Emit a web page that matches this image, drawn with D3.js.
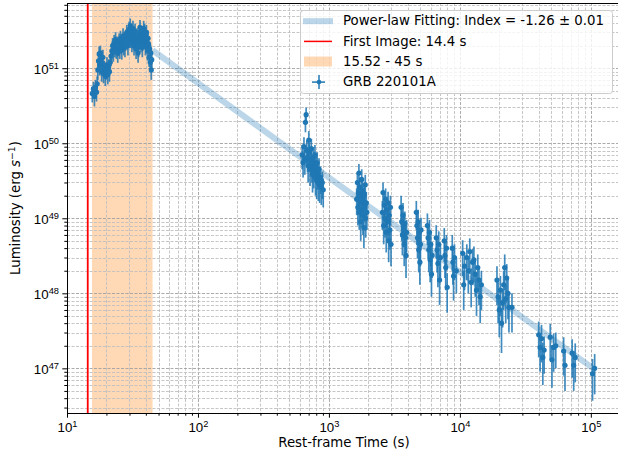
<!DOCTYPE html>
<meta charset="utf-8">
<style>
body { margin: 0; background: #fff; }
svg { display: block; font-family: "DejaVu Sans", sans-serif; }
.tick line { stroke: #000; stroke-width: 1; }
.domain { display: none; }
</style>
<svg width="618" height="457"></svg>
<script src="https://d3js.org/d3.v7.min.js"></script>
<script>
// [rest-frame time (s), luminosity (erg/s), 1-sigma error (erg/s)]
var promptPts = [
  [15.6, 4.6e50, 1.1e50], [15.9, 5.3e50, 1.3e50], [16.2, 4.2e50, 1.1e50], [16.5, 5.6e50, 1.4e50],
  [16.8, 4.8e50, 1.2e50], [17.0, 6.2e50, 1.6e50], [17.2, 9.5e50, 2.5e50], [17.4, 1.25e51, 0.32e51],
  [17.6, 1.55e51, 0.4e51], [17.8, 1.1e51, 0.3e51], [18.0, 1.6e51, 0.4e51], [18.2, 1.3e51, 0.34e51],
  [18.4, 9.0e50, 2.4e50], [18.6, 1.15e51, 0.3e51], [18.8, 1.4e51, 0.36e51], [19.0, 8.5e50, 2.2e50],
  [19.3, 1.0e51, 0.26e51], [19.6, 7.8e50, 2.0e50], [19.9, 9.5e50, 2.5e50], [20.2, 1.1e51, 0.3e51],
  [20.5, 8.2e50, 2.1e50], [20.8, 1.05e51, 0.27e51], [21.1, 9.0e50, 2.4e50], [21.4, 1.2e51, 0.31e51],
  [21.7, 1.45e51, 0.38e51], [22.0, 1.7e51, 0.44e51], [22.3, 2.0e51, 0.52e51], [22.6, 1.65e51, 0.43e51],
  [22.9, 2.2e51, 0.57e51], [23.2, 1.9e51, 0.5e51], [23.5, 2.4e51, 0.62e51], [23.8, 1.8e51, 0.47e51],
  [24.1, 2.1e51, 0.55e51], [24.4, 1.6e51, 0.42e51], [24.7, 1.95e51, 0.5e51], [25.0, 2.3e51, 0.6e51],
  [25.3, 1.8e51, 0.47e51], [25.6, 2.5e51, 0.65e51], [25.9, 2.1e51, 0.55e51], [26.2, 1.75e51, 0.45e51],
  [26.5, 2.2e51, 0.57e51], [26.8, 2.7e51, 0.7e51], [27.1, 2.0e51, 0.52e51], [27.4, 2.4e51, 0.62e51],
  [27.7, 1.9e51, 0.5e51], [28.0, 2.3e51, 0.6e51], [28.3, 2.6e51, 0.68e51], [28.6, 3.0e51, 0.78e51],
  [28.9, 2.4e51, 0.62e51], [29.2, 2.0e51, 0.52e51], [29.5, 2.7e51, 0.7e51], [29.8, 3.3e51, 0.86e51],
  [30.1, 2.8e51, 0.73e51], [30.4, 3.7e51, 0.9e51], [30.7, 2.5e51, 0.65e51], [31.0, 3.0e51, 0.78e51],
  [31.3, 2.2e51, 0.57e51], [31.6, 2.7e51, 0.7e51], [31.9, 3.4e51, 0.88e51], [32.2, 2.4e51, 0.62e51],
  [32.5, 2.0e51, 0.52e51], [32.8, 2.6e51, 0.68e51], [33.1, 3.1e51, 0.8e51], [33.4, 2.3e51, 0.6e51],
  [33.7, 1.8e51, 0.47e51], [34.0, 2.2e51, 0.57e51], [34.3, 2.7e51, 0.7e51], [34.6, 2.1e51, 0.55e51],
  [34.9, 1.6e51, 0.42e51], [35.2, 1.9e51, 0.5e51], [35.5, 2.5e51, 0.65e51], [35.8, 3.0e51, 0.78e51],
  [36.1, 3.5e51, 0.9e51], [36.4, 2.6e51, 0.68e51], [36.7, 2.2e51, 0.57e51], [37.0, 2.8e51, 0.73e51],
  [37.3, 2.4e51, 0.62e51], [37.6, 1.9e51, 0.5e51], [37.9, 2.3e51, 0.6e51], [38.2, 2.9e51, 0.75e51],
  [38.5, 3.4e51, 0.88e51], [38.8, 2.7e51, 0.7e51], [39.1, 3.1e51, 0.8e51], [39.4, 2.4e51, 0.62e51],
  [39.7, 2.0e51, 0.52e51], [40.0, 2.6e51, 0.68e51], [40.4, 3.0e51, 0.78e51], [40.8, 2.2e51, 0.57e51],
  [41.2, 1.7e51, 0.44e51], [41.6, 2.5e51, 0.65e51], [42.0, 2.1e51, 0.55e51], [42.4, 1.4e51, 0.36e51],
  [42.8, 1.8e51, 0.47e51], [43.2, 1.2e51, 0.31e51], [43.6, 1.6e51, 0.42e51], [44.0, 9.5e50, 2.5e50],
  [44.4, 1.3e51, 0.34e51]
];

var afterglowPts = [
  [625, 7.0e49, 2.5e49], [635, 5.5e49, 2.0e49], [645, 9.0e49, 3.0e49], [655, 6.0e49, 2.2e49],
  [662, 1.9e50, 0.5e50], [670, 2.4e50, 0.6e50], [678, 8.0e49, 2.8e49], [686, 6.5e49, 2.4e49],
  [694, 5.0e49, 2.0e49], [702, 1.1e50, 0.35e50], [710, 7.5e49, 2.6e49], [718, 4.5e49, 1.8e49],
  [726, 6.0e49, 2.2e49], [734, 8.5e49, 3.0e49], [742, 5.0e49, 2.0e49], [750, 3.8e49, 1.6e49],
  [758, 6.5e49, 2.4e49], [766, 4.2e49, 1.7e49], [774, 5.5e49, 2.1e49], [782, 7.0e49, 2.5e49],
  [790, 3.5e49, 1.5e49], [798, 4.8e49, 1.9e49], [806, 3.2e49, 1.4e49], [814, 5.5e49, 2.1e49],
  [822, 4.0e49, 1.6e49], [830, 3.0e49, 1.3e49], [840, 4.5e49, 1.8e49], [850, 2.8e49, 1.2e49],
  [862, 3.5e49, 1.4e49], [875, 2.6e49, 1.1e49], [890, 3.0e49, 1.2e49], [905, 2.4e49, 1.0e49],
  [1630, 1.8e49, 0.7e49], [1650, 3.0e49, 1.1e49], [1665, 1.4e49, 0.6e49], [1680, 2.2e49, 0.8e49],
  [1695, 4.0e49, 1.3e49], [1705, 1.2e49, 0.5e49], [1720, 2.6e49, 0.9e49], [1735, 1.6e49, 0.6e49],
  [1750, 9.0e48, 4.0e48], [1765, 2.0e49, 0.8e49], [1780, 3.3e49, 1.2e49], [1790, 1.3e49, 0.55e49],
  [1805, 2.4e49, 0.9e49], [1820, 1.1e49, 0.5e49], [1835, 1.7e49, 0.7e49], [1850, 7.5e48, 3.5e48],
  [1865, 2.1e49, 0.8e49], [1880, 1.5e49, 0.6e49], [1895, 2.8e49, 1.0e49], [1910, 1.0e49, 0.45e49],
  [1930, 1.6e49, 0.65e49], [1950, 1.2e49, 0.5e49],
  [2560, 1.2e49, 0.5e49], [2590, 2.2e49, 0.8e49], [2620, 8.0e48, 3.5e48], [2650, 1.5e49, 0.6e49],
  [2680, 1.0e49, 0.45e49], [2710, 1.8e49, 0.7e49], [2740, 6.5e48, 3.0e48], [2770, 1.3e49, 0.55e49],
  [2800, 9.0e48, 4.0e48], [2830, 1.6e49, 0.65e49], [2860, 5.0e48, 2.4e48], [2890, 1.1e49, 0.5e49],
  [2920, 7.0e48, 3.2e48], [2950, 1.4e49, 0.6e49], [2980, 4.5e48, 2.2e48],
  [3560, 1.4e49, 0.6e49], [3600, 9.0e48, 4.0e48], [3640, 6.0e48, 2.8e48], [3680, 1.1e49, 0.5e49],
  [3720, 7.5e48, 3.4e48], [3760, 4.5e48, 2.2e48], [3800, 8.5e48, 3.8e48], [3840, 5.5e48, 2.6e48],
  [3880, 3.2e48, 1.6e48], [3920, 6.5e48, 3.0e48],
  [4650, 1.2e49, 0.5e49], [4700, 8.0e48, 3.6e48], [4750, 5.5e48, 2.6e48], [4800, 9.0e48, 4.0e48],
  [4850, 3.8e48, 1.9e48], [4900, 6.5e48, 3.0e48], [4950, 2.6e48, 1.3e48], [5000, 4.5e48, 2.2e48],
  [5050, 7.0e48, 3.2e48],
  [5650, 8.0e48, 3.6e48], [5720, 5.5e48, 2.6e48], [5790, 3.8e48, 1.9e48], [5860, 6.5e48, 3.0e48],
  [5930, 2.8e48, 1.4e48], [6000, 4.5e48, 2.2e48], [6070, 1.8e48, 0.9e48], [6130, 3.2e48, 1.6e48],
  [6600, 5.5e48, 2.6e48], [6700, 3.8e48, 1.9e48], [6800, 2.5e48, 1.3e48], [6900, 4.5e48, 2.2e48],
  [7000, 1.5e48, 0.8e48], [7100, 3.0e48, 1.5e48],
  [7600, 5.0e48, 2.4e48], [7700, 3.2e48, 1.6e48], [7800, 2.2e48, 1.1e48], [7900, 4.0e48, 2.0e48],
  [8000, 1.2e48, 0.65e48],
  [8750, 4.0e48, 2.0e48], [8850, 2.6e48, 1.3e48], [8950, 1.7e48, 0.9e48], [9100, 3.0e48, 1.5e48],
  [9400, 2.0e48, 1.0e48],
  [10500, 3.4e48, 1.7e48], [10700, 1.3e48, 0.7e48], [10850, 2.3e48, 1.2e48],
  [11300, 3.0e48, 1.5e48], [11600, 2.0e48, 1.0e48], [11900, 3.6e48, 1.8e48], [12200, 1.4e48, 0.75e48],
  [12500, 2.6e48, 1.3e48],
  [12800, 2.8e48, 1.4e48], [13100, 1.8e48, 0.9e48], [13400, 1.1e48, 0.6e48], [13700, 2.2e48, 1.1e48],
  [14000, 1.5e48, 0.8e48], [14300, 9.0e47, 5.0e47], [14600, 1.3e48, 0.7e48],
  [19200, 1.5e48, 0.8e48], [19600, 9.0e47, 5.0e47], [20000, 6.0e47, 3.4e47], [20400, 1.1e48, 0.6e48],
  [20800, 4.0e47, 2.4e47], [21200, 7.5e47, 4.0e47], [21600, 1.3e48, 0.7e48], [22000, 2.2e48, 1.1e48],
  [22400, 8.5e47, 4.5e47], [22800, 1.6e48, 0.85e48], [23300, 1.0e48, 0.55e48], [23700, 6.5e47, 3.5e47],
  [25000, 6.5e47, 3.5e47],
  [40000, 2.8e47, 1.4e47], [41000, 1.9e47, 1.0e47], [42000, 2.5e47, 1.3e47], [43000, 1.4e47, 0.8e47],
  [44000, 1.75e47, 0.9e47],
  [49000, 2.6e47, 1.3e47], [50500, 1.3e47, 0.75e47], [52000, 1.9e47, 1.0e47], [54000, 2.0e47, 1.0e47],
  [62000, 1.7e47, 0.9e47], [63500, 1.1e47, 0.6e47],
  [72000, 1.6e47, 0.85e47], [74000, 1.1e47, 0.6e47], [76000, 1.4e47, 0.75e47],
  [103000, 8.5e46, 4.8e46], [107000, 1.0e47, 0.55e47]
];

// power-law fit L = norm * t^index, drawn over this time range
var fitNorm = 2.1e53;
var fitIndex = -1.26;
var fitRange = [45, 108000];

var firstImage = 14.4;
var spanRange = [15.52, 45];

var xTickExp = [1, 2, 3, 4, 5];
var yTickExp = [47, 48, 49, 50, 51];

var legendLabels = [
  "Power-law Fitting: Index = -1.26 \u00b1 0.01",
  "First Image: 14.4 s",
  "15.52 - 45 s",
  "GRB 220101A"
];

var blue = "#1f77b4";
var pL = 67, pR = 621, pT = 3, pB = 413;

var svg = d3.select("svg");
var x = d3.scaleLog().domain([10, 1.7e5]).range([pL, pR]);
var y = d3.scaleLog().domain([2.54e46, 7.4e51]).range([pB, pT]);

svg.append("clipPath").attr("id", "plot")
  .append("rect").attr("x", pL).attr("y", pT)
  .attr("width", pR - pL).attr("height", pB - pT);

var plot = svg.append("g").attr("clip-path", "url(#plot)");

// shaded interval
plot.append("rect")
  .attr("x", x(spanRange[0])).attr("y", pT)
  .attr("width", x(spanRange[1]) - x(spanRange[0]))
  .attr("height", pB - pT)
  .attr("fill", "#ff7f0e").attr("fill-opacity", 0.3);

// grid
function isMajor(v) { return Math.abs(Math.log10(v) - Math.round(Math.log10(v))) < 1e-9; }
var grid = plot.append("g");
grid.selectAll(".gx").data(x.ticks()).enter().append("line")
  .attr("x1", function(d) { return Math.round(x(d)) + 0.5; })
  .attr("x2", function(d) { return Math.round(x(d)) + 0.5; })
  .attr("y1", pT).attr("y2", pB)
  .attr("stroke", function(d) { return isMajor(d) ? "#a0a0a0" : "#c0c0c0"; })
  .attr("stroke-width", 0.9)
  .attr("stroke-dasharray", "3,1.5");
grid.selectAll(".gy").data(y.ticks()).enter().append("line")
  .attr("y1", function(d) { return Math.round(y(d)) + 0.5; })
  .attr("y2", function(d) { return Math.round(y(d)) + 0.5; })
  .attr("x1", pL).attr("x2", pR)
  .attr("stroke", function(d) { return isMajor(d) ? "#a0a0a0" : "#c0c0c0"; })
  .attr("stroke-width", 0.9)
  .attr("stroke-dasharray", "3,1.5");

// first image line
plot.append("line")
  .attr("x1", x(firstImage)).attr("x2", x(firstImage))
  .attr("y1", pT).attr("y2", pB)
  .attr("stroke", "red").attr("stroke-width", 1.8);

// fit line
var fitPts = fitRange.map(function(t) { return [t, fitNorm * Math.pow(t, fitIndex)]; });
plot.append("path")
  .attr("d", d3.line().x(function(d) { return x(d[0]); }).y(function(d) { return y(d[1]); })(fitPts))
  .attr("fill", "none").attr("stroke", blue).attr("stroke-opacity", 0.3)
  .attr("stroke-width", 6);

// data
var allPts = promptPts.concat(afterglowPts);
var ymin = y.domain()[0];
plot.append("g").selectAll("line").data(allPts).enter().append("line")
  .attr("x1", function(d) { return x(d[0]); })
  .attr("x2", function(d) { return x(d[0]); })
  .attr("y1", function(d) { return y(Math.max(d[1] - d[2], ymin)); })
  .attr("y2", function(d) { return y(d[1] + d[2]); })
  .attr("stroke", blue).attr("stroke-width", 1.7).attr("stroke-opacity", 0.85);
plot.append("g").selectAll("circle").data(allPts).enter().append("circle")
  .attr("cx", function(d) { return x(d[0]); })
  .attr("cy", function(d) { return y(d[1]); })
  .attr("r", 2.6).attr("fill", blue);

// axes
var xMajor = xTickExp.map(function(e) { return Math.pow(10, e); });
var yMajor = yTickExp.map(function(e) { return Math.pow(10, e); });
var xMinor = x.ticks().filter(function(d) { return !isMajor(d); });
var yMinor = y.ticks().filter(function(d) { return !isMajor(d); });

svg.append("g").attr("transform", "translate(0," + pB + ")")
  .call(d3.axisBottom(x).tickValues(xMinor).tickSize(2.7).tickFormat(""));
var gx = svg.append("g").attr("transform", "translate(0," + pB + ")")
  .call(d3.axisBottom(x).tickValues(xMajor).tickSize(4.7).tickFormat(""));
svg.append("g").attr("transform", "translate(" + pL + ",0)")
  .call(d3.axisLeft(y).tickValues(yMinor).tickSize(2.7).tickFormat(""));
var gy = svg.append("g").attr("transform", "translate(" + pL + ",0)")
  .call(d3.axisLeft(y).tickValues(yMajor).tickSize(4.7).tickFormat(""));

gx.selectAll(".tick").each(function(d, i) {
  var t = d3.select(this).append("text")
    .attr("y", 19).attr("fill", "#000").attr("text-anchor", "middle")
    .style("font-size", "13.3px");
  t.append("tspan").text("10");
  t.append("tspan").attr("dy", -5.5).style("font-size", "9.3px").text(xTickExp[i]);
});
gy.selectAll(".tick").each(function(d, i) {
  var t = d3.select(this).append("text")
    .attr("x", -8).attr("y", 5.5).attr("fill", "#000").attr("text-anchor", "end")
    .style("font-size", "13.3px");
  t.append("tspan").text("10");
  t.append("tspan").attr("dy", -5.5).style("font-size", "9.3px").text(yTickExp[i]);
});

// spines
svg.append("line").attr("x1", pL).attr("x2", pR).attr("y1", pB + 0.5).attr("y2", pB + 0.5)
  .attr("stroke", "#000").attr("stroke-width", 1);
svg.append("line").attr("x1", pL).attr("x2", pR).attr("y1", pT + 0.5).attr("y2", pT + 0.5)
  .attr("stroke", "#000").attr("stroke-width", 1);
svg.append("line").attr("x1", pL + 0.5).attr("x2", pL + 0.5).attr("y1", pT).attr("y2", pB + 1)
  .attr("stroke", "#000").attr("stroke-width", 1);

// axis labels
svg.append("text").attr("x", (pL + pR) / 2).attr("y", 447)
  .attr("text-anchor", "middle").style("font-size", "13.3px")
  .text("Rest-frame Time (s)");
var yl = svg.append("text").attr("transform", "translate(20," + ((pT + pB) / 2) + ") rotate(-90)")
  .attr("text-anchor", "middle").style("font-size", "13.3px");
yl.append("tspan").text("Luminosity (erg ");
yl.append("tspan").style("font-style", "italic").text("s");
yl.append("tspan").attr("dy", -5).style("font-size", "9.3px").text("\u22121");
yl.append("tspan").attr("dy", 5).text(")");

// legend
var lg = svg.append("g");
lg.append("rect").attr("x", 300.5).attr("y", 10.5).attr("width", 312).attr("height", 83).attr("rx", 3)
  .attr("fill", "#fff").attr("fill-opacity", 0.8).attr("stroke", "#cccccc");
var rowY = legendLabels.map(function(s, i) { return 25.2 + i * 20.4; });
lg.selectAll("text.lab").data(legendLabels).enter().append("text")
  .attr("x", 343).attr("y", function(d, i) { return rowY[i]; })
  .style("font-size", "13.3px").text(function(d) { return d; });
lg.append("line").attr("x1", 303).attr("x2", 333).attr("y1", rowY[0] - 4).attr("y2", rowY[0] - 4)
  .attr("stroke", blue).attr("stroke-opacity", 0.3).attr("stroke-width", 6);
lg.append("line").attr("x1", 304).attr("x2", 332).attr("y1", rowY[1] - 4.2).attr("y2", rowY[1] - 4.2)
  .attr("stroke", "red").attr("stroke-width", 1.5);
lg.append("rect").attr("x", 304).attr("y", rowY[2] - 9.5).attr("width", 28).attr("height", 10)
  .attr("fill", "#ff7f0e").attr("fill-opacity", 0.3);
var my = rowY[3] - 4.3;
lg.append("line").attr("x1", 312).attr("x2", 325).attr("y1", my).attr("y2", my)
  .attr("stroke", blue).attr("stroke-width", 1.5);
lg.append("line").attr("x1", 319).attr("x2", 319).attr("y1", my - 7).attr("y2", my + 7)
  .attr("stroke", blue).attr("stroke-width", 1.5);
lg.append("circle").attr("cx", 319).attr("cy", my).attr("r", 2.3).attr("fill", blue);
</script>
